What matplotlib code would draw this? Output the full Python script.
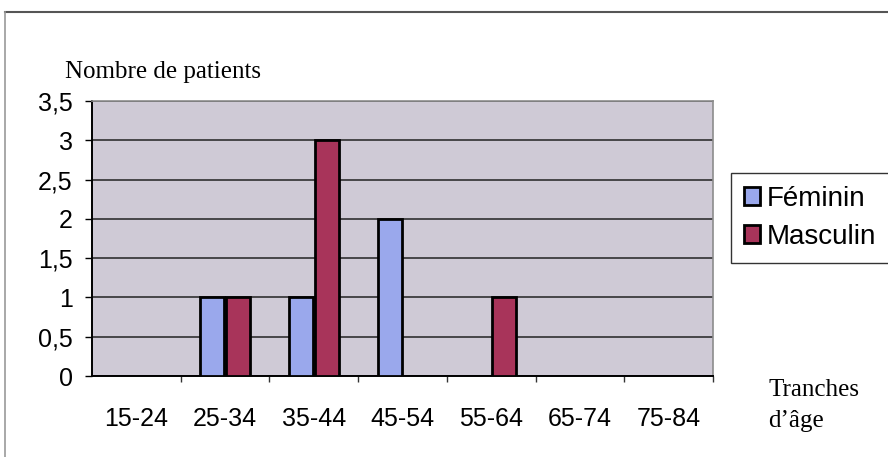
import matplotlib.pyplot as plt
from matplotlib.lines import Line2D
import numpy as np

# age groups and patient counts per sex
tranches = ['15-24', '25-34', '35-44', '45-54', '55-64', '65-74', '75-84']
feminin = [0, 1, 1, 2, 0, 0, 0]
masculin = [0, 1, 3, 0, 1, 0, 0]
y_ticks = [0, 0.5, 1, 1.5, 2, 2.5, 3, 3.5]
y_labels = ['0', '0,5', '1', '1,5', '2', '2,5', '3', '3,5']

fig = plt.figure(figsize=(8.88, 4.57), dpi=100)
fig.patch.set_facecolor('white')
ax = fig.add_axes([92 / 888, 1 - 376 / 457, 621 / 888, 275 / 457])
ax.set_facecolor('#cfcad6')

x = np.arange(len(tranches))
w = 0.27
ax.bar(x - 0.145, feminin, w, color='#9aa8ec', edgecolor='black', linewidth=2,
       label='Féminin', zorder=3)
ax.bar(x + 0.145, masculin, w, color='#a8345a', edgecolor='black', linewidth=2,
       label='Masculin', zorder=3)

ax.set_xlim(-0.5, len(tranches) - 0.5)
ax.set_ylim(0, 3.5)
ax.set_yticks(y_ticks)
ax.set_yticklabels(y_labels, fontsize=18, family='Liberation Sans')
ax.yaxis.grid(True, color='#222222', linewidth=1.1, zorder=0)

# boundary ticks between groups, labels in the middle of each group
ax.set_xticks(x + 0.5)
ax.set_xticklabels([])
ax.set_xticks(x, minor=True)
ax.set_xticklabels(tranches, minor=True, fontsize=18, family='Liberation Sans')
ax.tick_params(axis='x', which='major', length=4, width=1, color='#333333')
ax.tick_params(axis='x', which='minor', length=0, pad=22)
ax.tick_params(axis='y', length=5, width=1, pad=9)

for side in ['left', 'bottom']:
    ax.spines[side].set_color('black')
    ax.spines[side].set_linewidth(1.4)
for side in ['top', 'right']:
    ax.spines[side].set_color('#8c8c8c')
    ax.spines[side].set_linewidth(1.2)

fig.text(65 / 888, 1 - 72 / 457, 'Nombre de patients', fontsize=18,
         family='Liberation Serif', va='center', ha='left')
fig.text(768 / 888, 1 - 390 / 457, 'Tranches', fontsize=18,
         family='Liberation Serif', va='center', ha='left')
fig.text(768 / 888, 1 - 421 / 457, 'd\u2019âge', fontsize=18,
         family='Liberation Serif', va='center', ha='left')

leg = ax.legend(loc='upper left', bbox_to_anchor=(731 / 888, 1 - 173 / 457),
                bbox_transform=fig.transFigure, borderaxespad=0, fancybox=False,
                edgecolor='#333333', framealpha=1,
                prop={'family': 'Liberation Sans', 'size': 20},
                handlelength=0.6, handleheight=0.6, handletextpad=0.25,
                borderpad=0.45, labelspacing=0.45)
leg.get_frame().set_linewidth(1.0)

# outer frame of the chart
fig.add_artist(Line2D([5 / 888, 1], [1 - 12 / 457, 1 - 12 / 457],
                      transform=fig.transFigure, color='#555555', linewidth=1.5))
fig.add_artist(Line2D([5 / 888, 5 / 888], [0, 1 - 12 / 457],
                      transform=fig.transFigure, color='#999999', linewidth=1.2))

fig.savefig('out.png', dpi=100)
